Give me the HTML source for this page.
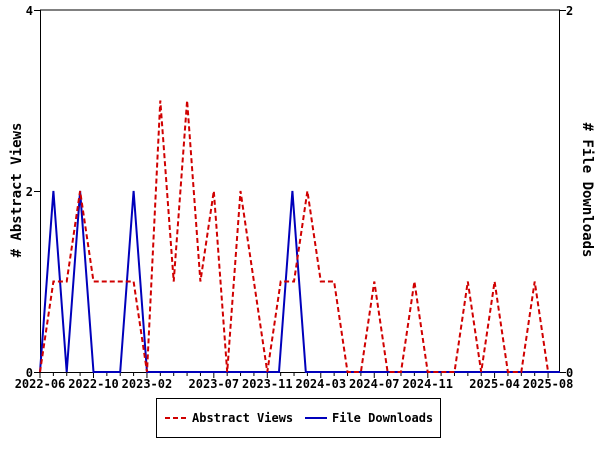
<!DOCTYPE html>
<html><head><meta charset="utf-8"><style>
html,body{margin:0;padding:0;background:#fff;}
svg{display:block;}
text{font-family:"DejaVu Sans Mono","Liberation Mono",monospace;font-weight:bold;fill:#000;}
</style></head><body>
<svg width="600" height="450" viewBox="0 0 600 450" xmlns="http://www.w3.org/2000/svg">
<rect x="0" y="0" width="600" height="450" fill="#fff"/>
<line x1="40" y1="10" x2="560" y2="10" stroke="#000"/>
<line x1="40.5" y1="10" x2="40.5" y2="372" stroke="#000"/>
<line x1="559.5" y1="10" x2="559.5" y2="372" stroke="#000"/>
<line x1="40" y1="372.5" x2="560" y2="372.5" stroke="#000"/>
<line x1="34" y1="10.5" x2="40" y2="10.5" stroke="#000"/>
<line x1="34" y1="191.5" x2="40" y2="191.5" stroke="#000"/>
<line x1="34" y1="372.5" x2="40" y2="372.5" stroke="#000"/>
<text x="33" y="15" font-size="12" text-anchor="end">4</text>
<text x="33" y="196" font-size="12" text-anchor="end">2</text>
<text x="33" y="377" font-size="12" text-anchor="end">0</text>
<line x1="560" y1="10.5" x2="566" y2="10.5" stroke="#000"/>
<line x1="560" y1="372.5" x2="566" y2="372.5" stroke="#000"/>
<text x="566" y="15" font-size="12">2</text>
<text x="566" y="377" font-size="12">0</text>
<text transform="translate(21,190) rotate(-90)" font-size="14" text-anchor="middle" font-weight="normal"># Abstract Views</text>
<text transform="translate(583,190) rotate(90)" font-size="14" text-anchor="middle" font-weight="normal"># File Downloads</text>
<g id="xt"></g>
<polyline fill="none" stroke="#0000bb" stroke-width="2" points="40,372 53.4,191 66.7,372 80.1,191 93.5,372 106.9,372 120.2,372 133.6,191 147,372 279,372 292.4,191 305.8,372 560,372"/>
<polyline id="red" fill="none" stroke="#d00000" stroke-width="2" stroke-dasharray="5,3"/>
<rect x="156.5" y="398.5" width="284" height="39" fill="none" stroke="#000"/>
<line x1="165" y1="418" x2="187" y2="418" stroke="#d00000" stroke-width="2" stroke-dasharray="5,3"/>
<text x="192" y="422" font-size="12" font-weight="normal">Abstract Views</text>
<line x1="305" y1="418" x2="327" y2="418" stroke="#0000bb" stroke-width="2"/>
<text x="332" y="422" font-size="12" font-weight="normal">File Downloads</text>
<script>
var v=[0,1,1,2,1,1,1,1,0,3,1,3,1,2,0,2,1,0,1,1,2,1,1,0,0,1,0,0,1,0,0,0,1,0,1,0,0,1,0];
var pts=v.map(function(y,i){return (40+i*13.37).toFixed(1)+","+(372-y*90.5).toFixed(1);}).join(" ");
document.getElementById("red").setAttribute("points",pts);
var ns="http://www.w3.org/2000/svg",g=document.getElementById("xt");
var labs={0:"2022-06",4:"2022-10",8:"2023-02",13:"2023-07",17:"2023-11",21:"2024-03",25:"2024-07",29:"2024-11",34:"2025-04",38:"2025-08"};
for(var i=0;i<=38;i++){var x=40+i*13.37;var l=document.createElementNS(ns,"line");
l.setAttribute("x1",x);l.setAttribute("x2",x);l.setAttribute("y1",372);l.setAttribute("y2",labs[i]?378:376);l.setAttribute("stroke","#000");g.appendChild(l);
if(labs[i]){var t=document.createElementNS(ns,"text");t.setAttribute("x",x);t.setAttribute("y",388);t.setAttribute("font-size","12");t.setAttribute("text-anchor","middle");t.textContent=labs[i];g.appendChild(t);}}
</script>
</svg>
</body></html>
